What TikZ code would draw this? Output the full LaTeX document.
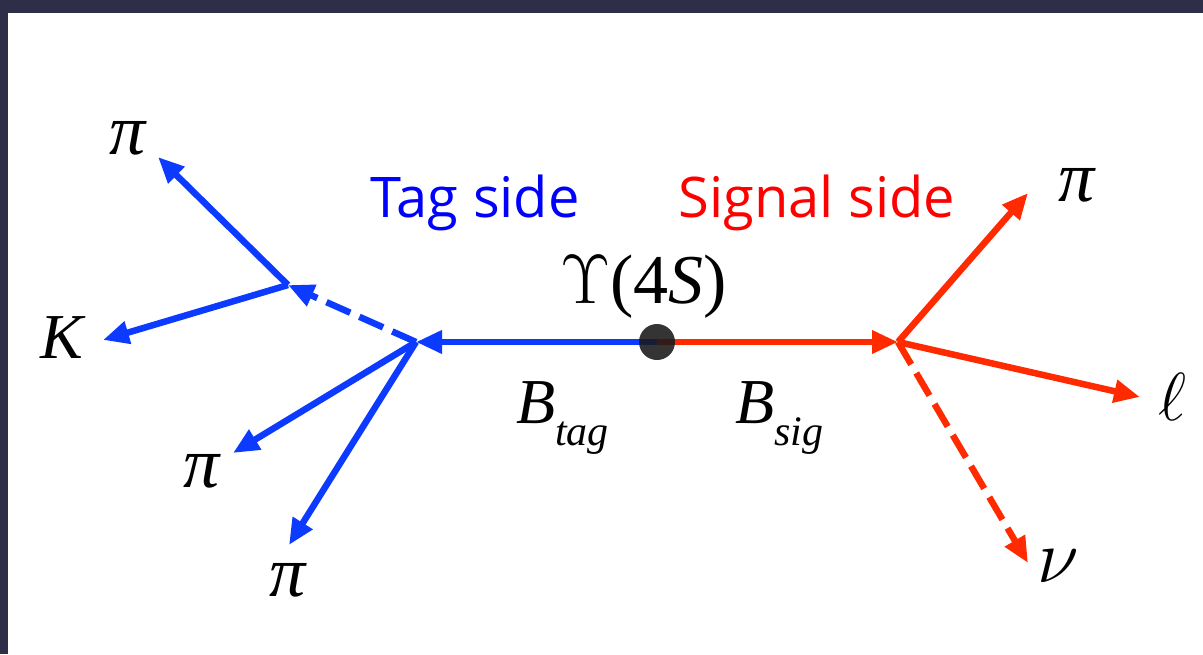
\RequirePackage{fix-cm}
\documentclass[tikz,border=0pt]{standalone}
\usepackage{fontspec}
\setmainfont{Liberation Serif}
\newfontfamily\gillfont{Open Sans}
\usetikzlibrary{arrows.meta}
\definecolor{slate}{RGB}{46,46,72}
\definecolor{arrblue}{RGB}{12,58,255}
\definecolor{arrred}{RGB}{255,42,0}
\definecolor{txtblue}{RGB}{0,0,255}
\definecolor{txtred}{RGB}{255,0,0}
\tikzset{
  trk/.style={line width=6.5pt, -{Triangle[length=26pt,width=22pt]}},
  tagtrk/.style={trk, draw=arrblue},
  sigtrk/.style={trk, draw=arrred},
  dsh/.style={dash pattern=on 26pt off 10pt},
  lbl/.style={inner sep=0pt, font=\fontsize{64}{64}\selectfont\itshape},
  pilbl/.style={inner sep=0pt, font=\fontsize{72}{72}\selectfont\itshape},
  sidelbl/.style={inner sep=0pt, anchor=base, font=\gillfont\fontsize{56}{56}\selectfont}
}
\begin{document}
\begin{tikzpicture}[x=1pt,y=-1pt]
\useasboundingbox (0,0) rectangle (1203,654);
\fill[slate] (0,0) rectangle (1203,654);
\fill[white] (8,13) rectangle (1203,654);
% vertices
\coordinate (ups) at (657,342);
\coordinate (tagv) at (416,342);
\coordinate (tagd) at (288,285);
\coordinate (sigv) at (898,342);
% track ends
\coordinate (epitop) at (158,157);
\coordinate (eK) at (103,340);
\coordinate (epimid) at (233,453);
\coordinate (epibot) at (289,545);
\coordinate (epir) at (1028,193);
\coordinate (eell) at (1140,397);
\coordinate (enu) at (1028,563);
% tag side
\draw[tagtrk] (ups) -- (tagv);
\draw[tagtrk, dsh] (tagv) -- (tagd);
\draw[tagtrk] (tagd) -- (epitop);
\draw[tagtrk] (tagd) -- (eK);
\draw[tagtrk] (tagv) -- (epimid);
\draw[tagtrk] (tagv) -- (epibot);
% signal side
\draw[sigtrk] (ups) -- (sigv);
\draw[sigtrk] (sigv) -- (epir);
\draw[sigtrk] (sigv) -- (eell);
\draw[sigtrk, dsh] (sigv) -- (enu);
% Upsilon dot
\fill[black!90, opacity=0.88] (ups) circle[radius=18];
% labels
\node[pilbl] (lpitop) at (128,138) {π};
\node[lbl] (lK) at (62,338) {K};
\node[pilbl] (lpimid) at (202,471) {π};
\node[pilbl] (lpibot) at (288,580) {π};
\node[pilbl] (lpir) at (1077,185) {π};
\node[inner sep=0pt] (lell) at (1172,397) {\fontsize{68}{68}\selectfont$\ell$};
\node[inner sep=0pt] (lnu) at (1058,566) {\fontsize{76}{76}\selectfont$\nu$};
\node[inner sep=0pt, anchor=base west, font=\fontsize{70}{70}\selectfont] (lups) at (560,303) {$\Upsilon$(4\textit{S})};
\node[lbl, anchor=base west] (lbtag) at (516,423) {B\raisebox{-22pt}{\fontsize{42}{42}\selectfont\itshape tag}};
\node[lbl, anchor=base west] (lbsig) at (735,423) {B\raisebox{-22pt}{\fontsize{42}{42}\selectfont\itshape sig}};
\node[sidelbl, text=txtblue] (ltag) at (475,217) {Tag side};
\node[sidelbl, text=txtred] (lsig) at (817,217) {Signal side};
\end{tikzpicture}
\end{document}
